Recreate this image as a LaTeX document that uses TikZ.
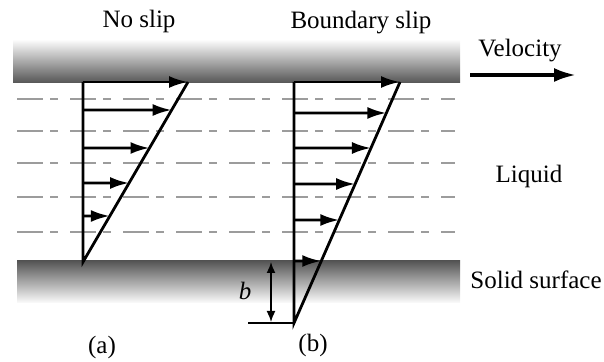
\documentclass[tikz,border=0pt]{standalone}
\usepackage{fontspec}
\setmainfont{Liberation Serif}
\usetikzlibrary{arrows.meta, calc}
\definecolor{PlateDark}{HTML}{555555}
\definecolor{PlateLight}{HTML}{FCFCFC}
\definecolor{DashGray}{HTML}{9C9C9C}
\tikzset{
  txt/.style={font=\fontsize{12.5}{15}\selectfont, anchor=base, inner sep=0pt},
  profile/.style={line width=1.4pt, draw=black, line join=miter},
  velarrow/.style={-{Latex[length=9.5pt, width=6pt]}, line width=1.4pt, draw=black},
  bigarrow/.style={-{Latex[length=11pt, width=7pt]}, line width=1.8pt, draw=black},
  gaparrow/.style={{Latex[length=5.5pt, width=4.5pt]}-{Latex[length=5.5pt, width=4.5pt]}, line width=0.8pt, draw=black},
  flowline/.style={draw=DashGray, line width=1.1pt, dash pattern=on 13pt off 3.5pt on 4pt off 6pt}
}
\begin{document}
\begin{tikzpicture}[x=0.5pt, y=-0.5pt]
\useasboundingbox (0,0) rectangle (604,362);
% walls
\shade[top color=PlateLight, bottom color=PlateDark] (13,40) rectangle (460,83);
\shade[top color=PlateDark, bottom color=PlateLight] (17,261) rectangle (460,303);
% liquid layers
\foreach \y in {99,131,163,197,232}
  \draw[flowline] (17,\y) -- (455,\y);
% (a) no slip
\coordinate (aTop) at (83,82);
\coordinate (aBot) at (83,262);
\coordinate (aTip) at (188,82);
\draw[profile] (aTop) -- (aBot) -- (aTip);
\foreach \y [count=\i] in {82,110,148,183,216} {
  \coordinate (aS\i) at (83,\y);
  \coordinate (aE\i) at ($(aBot)!{(262-\y)/180}!(aTip)$);
  \draw[velarrow] (aS\i) -- (aE\i);
}
% (b) boundary slip
\coordinate (bTop) at (294,82);
\coordinate (bBot) at (294,323);
\coordinate (bTip) at (400,82);
\draw[profile] (bTop) -- (bBot) -- (bTip);
\foreach \y [count=\i] in {82,113,148,184,220,261} {
  \coordinate (bS\i) at (294,\y);
  \coordinate (bE\i) at ($(bBot)!{(323-\y)/241}!(bTip)$);
  \draw[velarrow] (bS\i) -- (bE\i);
}
\coordinate (bFoot) at (248,323);
\draw[line width=0.9pt] (bFoot) -- (bBot);
\coordinate (bHi) at (271,262);
\coordinate (bLo) at (271,322);
\draw[gaparrow] (bHi) -- (bLo);
\node[txt, font=\fontsize{12.5}{15}\selectfont\itshape] (slipLen) at (245,300) {b};
% labels
\node[txt] (noSlip) at (139,28) {No slip};
\node[txt] (bdSlip) at (361,29) {Boundary slip};
\node[txt] (velo) at (520,57) {Velocity};
\coordinate (vStart) at (470,75);
\coordinate (vEnd) at (576,75);
\draw[bigarrow] (vStart) -- (vEnd);
\node[txt] (liquid) at (529,183) {Liquid};
\node[txt] (solid) at (536,289) {Solid surface};
\node[txt] (capA) at (102,354) {(a)};
\node[txt] (capB) at (313,352) {(b)};
\end{tikzpicture}
\end{document}
